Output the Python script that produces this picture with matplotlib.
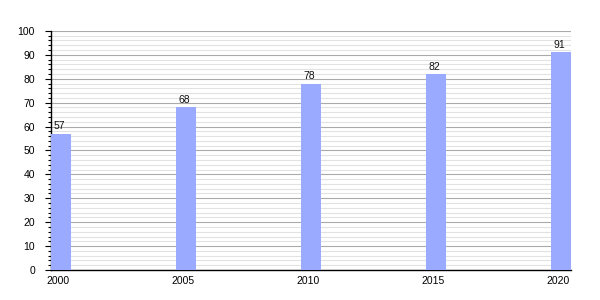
import numpy as np
import matplotlib.pyplot as plt
import matplotlib.transforms as mtransforms
from matplotlib.ticker import MultipleLocator

plt.rcParams['font.family'] = ['Liberation Sans', 'DejaVu Sans']

# Data
years = [2000, 2005, 2010, 2015, 2020]
values = [57, 68, 78, 82, 91]

fig = plt.figure(figsize=(6, 3), dpi=100)
ax = fig.add_axes([0.085, 0.1, 0.867, 0.797])

bars = ax.bar(years, values, width=0.8, color='#99aaff', zorder=3)

# labels sit a little left of the bar centres in the original
shift = mtransforms.offset_copy(ax.transData, fig=fig, x=-2, y=0, units='dots')
for x, v in zip(years, values):
    ax.text(x, v + 1, str(v), ha='center', va='bottom', fontsize=7.5,
            color='#111111', zorder=4, transform=shift)

ax.set_xlim(1999.6, 2020.4)
ax.set_ylim(0, 100)
ax.set_xticks(years)
ax.yaxis.set_major_locator(MultipleLocator(10))
ax.yaxis.set_minor_locator(MultipleLocator(2))

ax.grid(which='major', axis='y', color='#aaaaaa', linewidth=0.8, zorder=0)
ax.grid(which='minor', axis='y', color='#e2e2e2', linewidth=0.8, zorder=0)

for s in ['top', 'right']:
    ax.spines[s].set_visible(False)
ax.spines['left'].set_linewidth(1.0)
ax.spines['bottom'].set_linewidth(1.0)

ax.tick_params(axis='y', which='major', length=4.5, width=0.8, labelsize=7.5, pad=7)
ax.tick_params(axis='y', which='minor', length=2.5, width=0.8)
ax.tick_params(axis='x', length=0, labelsize=7.5, pad=4)

for lbl in ax.get_xticklabels():
    lbl.set_transform(lbl.get_transform() + mtransforms.Affine2D().translate(-3, 0))

fig.savefig('out.png', dpi=100)
